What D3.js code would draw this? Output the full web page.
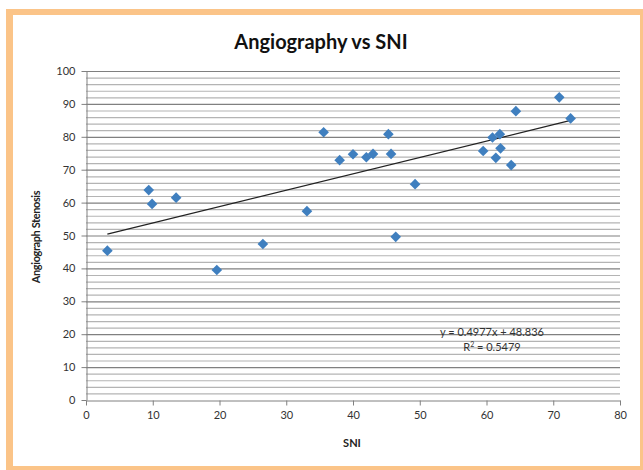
<!DOCTYPE html>
<html>
<head>
<meta charset="utf-8">
<script src="https://cdn.jsdelivr.net/npm/d3@7"></script>
<style>
  body { margin: 0; background: #fff; }
  text { font-family: Lato, "Open Sans", "Liberation Sans", sans-serif; }
</style>
</head>
<body>
<div id="chart"></div>
<script>
// SNI values and matching angiographic stenosis values
const sni = [3.2, 9.4, 9.9, 13.5, 19.6, 26.5, 33.1, 35.6, 38.0, 40.0, 42.0, 43.0,
             45.3, 45.7, 46.4, 49.3, 59.5, 60.9, 61.4, 62.0, 62.1, 63.7, 64.4, 70.9, 72.6];
const stenosis = [45.4, 63.8, 59.6, 61.5, 39.5, 47.4, 57.4, 81.4, 72.9, 74.7, 73.8, 74.8,
                  80.8, 74.8, 49.6, 65.6, 75.7, 79.8, 73.6, 80.8, 76.5, 71.4, 87.8, 92.0, 85.6];
const xTicks = [0, 10, 20, 30, 40, 50, 60, 70, 80];
const yTicks = [0, 10, 20, 30, 40, 50, 60, 70, 80, 90, 100];
const slope = 0.4977, intercept = 48.836;
const eqLabel = "y = 0.4977x + 48.836";

const W = 643, H = 470;
const svg = d3.select("#chart").append("svg").attr("width", W).attr("height", H);

// orange frame
svg.append("rect").attr("x", 6).attr("y", 9).attr("width", W - 6).attr("height", H - 9)
   .attr("fill", "#fbc488");
svg.append("rect").attr("x", 13).attr("y", 15).attr("width", 627).attr("height", 451)
   .attr("fill", "#fff");

const x = d3.scaleLinear().domain([0, 80]).range([86, 620]);
const y = d3.scaleLinear().domain([0, 100]).range([400, 71]);

// minor gridlines every 2
const minor = d3.range(2, 100, 2).filter(v => v % 10 !== 0);
svg.append("g").selectAll("line").data(minor).join("line")
   .attr("x1", x(0)).attr("x2", x(80))
   .attr("y1", d => y(d) + 0.5).attr("y2", d => y(d) + 0.5)
   .attr("stroke", "#b4b4b4").attr("stroke-width", 1.2);
// major gridlines
svg.append("g").selectAll("line").data(yTicks.slice(1)).join("line")
   .attr("x1", x(0)).attr("x2", x(80))
   .attr("y1", d => y(d) + 0.5).attr("y2", d => y(d) + 0.5)
   .attr("stroke", "#808080").attr("stroke-width", 1.2);

// axes
const xAxis = svg.append("g").attr("transform", `translate(0,${y(0) + 0.5})`)
   .call(d3.axisBottom(x).tickValues(xTicks).tickSize(5).tickSizeOuter(0).tickPadding(6));
const yAxis = svg.append("g").attr("transform", `translate(${x(0) + 0.5},0)`)
   .call(d3.axisLeft(y).tickValues(yTicks).tickSize(5).tickSizeOuter(0).tickPadding(6));
[xAxis, yAxis].forEach(g => {
  g.select(".domain").attr("stroke", "#808080");
  g.selectAll(".tick line").attr("stroke", "#808080");
  g.selectAll(".tick text").attr("fill", "#333").style("font-size", "11px")
   .style("font-family", "Lato, 'Open Sans', sans-serif");
});

// trendline over data range
const [xmin, xmax] = d3.extent(sni);
svg.append("line")
   .attr("x1", x(xmin)).attr("y1", y(slope * xmin + intercept))
   .attr("x2", x(xmax)).attr("y2", y(slope * xmax + intercept))
   .attr("stroke", "#222").attr("stroke-width", 1.3);

// points (diamonds)
const diamond = d3.symbol().type(d3.symbolDiamond2).size(72);
svg.append("g").selectAll("path").data(sni).join("path")
   .attr("d", diamond)
   .attr("transform", (d, i) => `translate(${x(d)},${y(stenosis[i])})`)
   .attr("fill", "#3f7fbf");

// title
svg.append("text").attr("x", 321).attr("y", 49).attr("text-anchor", "middle")
   .style("font-size", "20px").style("font-weight", "bold").attr("fill", "#111")
   .text("Angiography vs SNI");

// axis titles
svg.append("text").attr("x", 352).attr("y", 447).attr("text-anchor", "middle")
   .style("font-size", "11px").style("font-weight", "bold").attr("fill", "#222")
   .text("SNI");
svg.append("text").attr("transform", "translate(40,237) rotate(-90)").attr("text-anchor", "middle")
   .style("font-size", "11px").style("font-weight", "bold").attr("fill", "#222")
   .style("letter-spacing", "-0.4px")
   .text("Angiograph Stenosis");

// equation
svg.append("text").attr("x", 492).attr("y", 336).attr("text-anchor", "middle")
   .style("font-size", "11px").attr("fill", "#333").text(eqLabel);
const r2 = svg.append("text").attr("x", 492).attr("y", 351).attr("text-anchor", "middle")
   .style("font-size", "11px").attr("fill", "#333");
r2.append("tspan").text("R");
r2.append("tspan").attr("dy", -4).style("font-size", "7px").text("2");
r2.append("tspan").attr("dy", 4).text(" = 0.5479");
</script>
</body>
</html>
